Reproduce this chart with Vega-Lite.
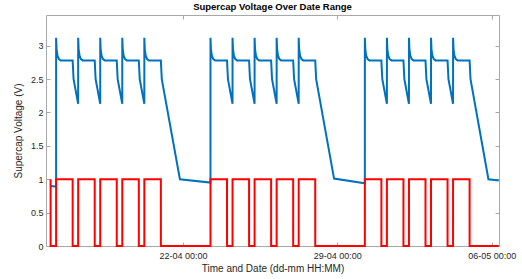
{
  "$schema": "https://vega.github.io/schema/vega-lite/v6.json",
  "autosize": {"type": "none"},
  "padding": {"left": 46, "top": 15, "right": 23, "bottom": 33},
  "width": 453,
  "height": 231,
  "title": {"text": "Supercap Voltage Over Date Range", "fontSize": 9.5, "fontWeight": "bold", "font": "Liberation Sans", "color": "#000000", "offset": 3},
  "config": {
    "view": {"stroke": "#a8a8a8", "strokeWidth": 1},
    "axis": {"grid": false, "domain": false, "tickColor": "#a8a8a8", "labelFont": "Liberation Sans", "titleFont": "Liberation Sans", "labelColor": "#262626", "titleColor": "#262626", "labelFontSize": 9, "titleFontSize": 10, "titleFontWeight": "normal"}
  },
  "datasets": {
    "v": [
      {"t": "2024-04-16T00:00", "v": 0.90},
      {"t": "2024-04-16T06:00", "v": 0.89},
      {"t": "2024-04-16T06:01", "v": 3.12}, {"t": "2024-04-16T06:30", "v": 2.95}, {"t": "2024-04-16T07:30", "v": 2.85}, {"t": "2024-04-16T09:00", "v": 2.80}, {"t": "2024-04-16T11:00", "v": 2.78},
      {"t": "2024-04-17T00:00", "v": 2.78}, {"t": "2024-04-17T01:00", "v": 2.50}, {"t": "2024-04-17T06:00", "v": 2.13},
      {"t": "2024-04-17T06:01", "v": 3.12}, {"t": "2024-04-17T06:30", "v": 2.95}, {"t": "2024-04-17T07:30", "v": 2.85}, {"t": "2024-04-17T09:00", "v": 2.80}, {"t": "2024-04-17T11:00", "v": 2.78},
      {"t": "2024-04-18T00:00", "v": 2.78}, {"t": "2024-04-18T01:00", "v": 2.50}, {"t": "2024-04-18T06:00", "v": 2.13},
      {"t": "2024-04-18T06:01", "v": 3.12}, {"t": "2024-04-18T06:30", "v": 2.95}, {"t": "2024-04-18T07:30", "v": 2.85}, {"t": "2024-04-18T09:00", "v": 2.80}, {"t": "2024-04-18T11:00", "v": 2.78},
      {"t": "2024-04-19T00:00", "v": 2.78}, {"t": "2024-04-19T01:00", "v": 2.50}, {"t": "2024-04-19T06:00", "v": 2.13},
      {"t": "2024-04-19T06:01", "v": 3.12}, {"t": "2024-04-19T06:30", "v": 2.95}, {"t": "2024-04-19T07:30", "v": 2.85}, {"t": "2024-04-19T09:00", "v": 2.80}, {"t": "2024-04-19T11:00", "v": 2.78},
      {"t": "2024-04-20T00:00", "v": 2.78}, {"t": "2024-04-20T01:00", "v": 2.50}, {"t": "2024-04-20T06:00", "v": 2.13},
      {"t": "2024-04-20T06:01", "v": 3.12}, {"t": "2024-04-20T06:30", "v": 2.95}, {"t": "2024-04-20T07:30", "v": 2.85}, {"t": "2024-04-20T09:00", "v": 2.80}, {"t": "2024-04-20T11:00", "v": 2.78},
      {"t": "2024-04-21T00:00", "v": 2.78}, {"t": "2024-04-21T01:00", "v": 2.50}, {"t": "2024-04-21T20:45", "v": 1.00}, {"t": "2024-04-23T06:00", "v": 0.95},
      {"t": "2024-04-23T06:01", "v": 3.12}, {"t": "2024-04-23T06:30", "v": 2.95}, {"t": "2024-04-23T07:30", "v": 2.85}, {"t": "2024-04-23T09:00", "v": 2.80}, {"t": "2024-04-23T11:00", "v": 2.78},
      {"t": "2024-04-24T00:00", "v": 2.78}, {"t": "2024-04-24T01:00", "v": 2.50}, {"t": "2024-04-24T06:00", "v": 2.13},
      {"t": "2024-04-24T06:01", "v": 3.12}, {"t": "2024-04-24T06:30", "v": 2.95}, {"t": "2024-04-24T07:30", "v": 2.85}, {"t": "2024-04-24T09:00", "v": 2.80}, {"t": "2024-04-24T11:00", "v": 2.78},
      {"t": "2024-04-25T00:00", "v": 2.78}, {"t": "2024-04-25T01:00", "v": 2.50}, {"t": "2024-04-25T06:00", "v": 2.13},
      {"t": "2024-04-25T06:01", "v": 3.12}, {"t": "2024-04-25T06:30", "v": 2.95}, {"t": "2024-04-25T07:30", "v": 2.85}, {"t": "2024-04-25T09:00", "v": 2.80}, {"t": "2024-04-25T11:00", "v": 2.78},
      {"t": "2024-04-26T00:00", "v": 2.78}, {"t": "2024-04-26T01:00", "v": 2.50}, {"t": "2024-04-26T06:00", "v": 2.13},
      {"t": "2024-04-26T06:01", "v": 3.12}, {"t": "2024-04-26T06:30", "v": 2.95}, {"t": "2024-04-26T07:30", "v": 2.85}, {"t": "2024-04-26T09:00", "v": 2.80}, {"t": "2024-04-26T11:00", "v": 2.78},
      {"t": "2024-04-27T00:00", "v": 2.78}, {"t": "2024-04-27T01:00", "v": 2.50}, {"t": "2024-04-27T06:00", "v": 2.13},
      {"t": "2024-04-27T06:01", "v": 3.12}, {"t": "2024-04-27T06:30", "v": 2.95}, {"t": "2024-04-27T07:30", "v": 2.85}, {"t": "2024-04-27T09:00", "v": 2.80}, {"t": "2024-04-27T11:00", "v": 2.78},
      {"t": "2024-04-28T00:00", "v": 2.78}, {"t": "2024-04-28T01:00", "v": 2.50}, {"t": "2024-04-28T20:30", "v": 1.01}, {"t": "2024-04-30T06:00", "v": 0.94},
      {"t": "2024-04-30T06:01", "v": 3.12}, {"t": "2024-04-30T06:30", "v": 2.95}, {"t": "2024-04-30T07:30", "v": 2.85}, {"t": "2024-04-30T09:00", "v": 2.80}, {"t": "2024-04-30T11:00", "v": 2.78},
      {"t": "2024-05-01T00:00", "v": 2.78}, {"t": "2024-05-01T01:00", "v": 2.50}, {"t": "2024-05-01T06:00", "v": 2.13},
      {"t": "2024-05-01T06:01", "v": 3.12}, {"t": "2024-05-01T06:30", "v": 2.95}, {"t": "2024-05-01T07:30", "v": 2.85}, {"t": "2024-05-01T09:00", "v": 2.80}, {"t": "2024-05-01T11:00", "v": 2.78},
      {"t": "2024-05-02T00:00", "v": 2.78}, {"t": "2024-05-02T01:00", "v": 2.50}, {"t": "2024-05-02T06:00", "v": 2.13},
      {"t": "2024-05-02T06:01", "v": 3.12}, {"t": "2024-05-02T06:30", "v": 2.95}, {"t": "2024-05-02T07:30", "v": 2.85}, {"t": "2024-05-02T09:00", "v": 2.80}, {"t": "2024-05-02T11:00", "v": 2.78},
      {"t": "2024-05-03T00:00", "v": 2.78}, {"t": "2024-05-03T01:00", "v": 2.50}, {"t": "2024-05-03T06:00", "v": 2.13},
      {"t": "2024-05-03T06:01", "v": 3.12}, {"t": "2024-05-03T06:30", "v": 2.95}, {"t": "2024-05-03T07:30", "v": 2.85}, {"t": "2024-05-03T09:00", "v": 2.80}, {"t": "2024-05-03T11:00", "v": 2.78},
      {"t": "2024-05-04T00:00", "v": 2.78}, {"t": "2024-05-04T01:00", "v": 2.50}, {"t": "2024-05-04T06:00", "v": 2.13},
      {"t": "2024-05-04T06:01", "v": 3.12}, {"t": "2024-05-04T06:30", "v": 2.95}, {"t": "2024-05-04T07:30", "v": 2.85}, {"t": "2024-05-04T09:00", "v": 2.80}, {"t": "2024-05-04T11:00", "v": 2.78},
      {"t": "2024-05-05T00:00", "v": 2.78}, {"t": "2024-05-05T01:00", "v": 2.50}, {"t": "2024-05-05T20:30", "v": 1.00}, {"t": "2024-05-06T07:45", "v": 0.98}
    ],
    "s": [
      {"t": "2024-04-16T00:00", "s": 1}, {"t": "2024-04-16T00:01", "s": 0},
      {"t": "2024-04-16T06:00", "s": 0}, {"t": "2024-04-16T06:01", "s": 1}, {"t": "2024-04-17T00:00", "s": 1}, {"t": "2024-04-17T00:01", "s": 0},
      {"t": "2024-04-17T06:00", "s": 0}, {"t": "2024-04-17T06:01", "s": 1}, {"t": "2024-04-18T00:00", "s": 1}, {"t": "2024-04-18T00:01", "s": 0},
      {"t": "2024-04-18T06:00", "s": 0}, {"t": "2024-04-18T06:01", "s": 1}, {"t": "2024-04-19T00:00", "s": 1}, {"t": "2024-04-19T00:01", "s": 0},
      {"t": "2024-04-19T06:00", "s": 0}, {"t": "2024-04-19T06:01", "s": 1}, {"t": "2024-04-20T00:00", "s": 1}, {"t": "2024-04-20T00:01", "s": 0},
      {"t": "2024-04-20T06:00", "s": 0}, {"t": "2024-04-20T06:01", "s": 1}, {"t": "2024-04-21T00:00", "s": 1}, {"t": "2024-04-21T00:01", "s": 0},
      {"t": "2024-04-23T06:00", "s": 0}, {"t": "2024-04-23T06:01", "s": 1}, {"t": "2024-04-24T00:00", "s": 1}, {"t": "2024-04-24T00:01", "s": 0},
      {"t": "2024-04-24T06:00", "s": 0}, {"t": "2024-04-24T06:01", "s": 1}, {"t": "2024-04-25T00:00", "s": 1}, {"t": "2024-04-25T00:01", "s": 0},
      {"t": "2024-04-25T06:00", "s": 0}, {"t": "2024-04-25T06:01", "s": 1}, {"t": "2024-04-26T00:00", "s": 1}, {"t": "2024-04-26T00:01", "s": 0},
      {"t": "2024-04-26T06:00", "s": 0}, {"t": "2024-04-26T06:01", "s": 1}, {"t": "2024-04-27T00:00", "s": 1}, {"t": "2024-04-27T00:01", "s": 0},
      {"t": "2024-04-27T06:00", "s": 0}, {"t": "2024-04-27T06:01", "s": 1}, {"t": "2024-04-28T00:00", "s": 1}, {"t": "2024-04-28T00:01", "s": 0},
      {"t": "2024-04-30T06:00", "s": 0}, {"t": "2024-04-30T06:01", "s": 1}, {"t": "2024-05-01T00:00", "s": 1}, {"t": "2024-05-01T00:01", "s": 0},
      {"t": "2024-05-01T06:00", "s": 0}, {"t": "2024-05-01T06:01", "s": 1}, {"t": "2024-05-02T00:00", "s": 1}, {"t": "2024-05-02T00:01", "s": 0},
      {"t": "2024-05-02T06:00", "s": 0}, {"t": "2024-05-02T06:01", "s": 1}, {"t": "2024-05-03T00:00", "s": 1}, {"t": "2024-05-03T00:01", "s": 0},
      {"t": "2024-05-03T06:00", "s": 0}, {"t": "2024-05-03T06:01", "s": 1}, {"t": "2024-05-04T00:00", "s": 1}, {"t": "2024-05-04T00:01", "s": 0},
      {"t": "2024-05-04T06:00", "s": 0}, {"t": "2024-05-04T06:01", "s": 1}, {"t": "2024-05-05T00:00", "s": 1}, {"t": "2024-05-05T00:01", "s": 0},
      {"t": "2024-05-06T07:45", "s": 0}
    ]
  },
  "layer": [
    {
      "data": {"name": "v"},
      "mark": {"type": "line", "color": "#0072BD", "strokeWidth": 2, "clip": false},
      "encoding": {
        "x": {"field": "t", "type": "temporal",
              "scale": {"domain": [{"year": 2024, "month": 4, "date": 15, "hours": 19}, {"year": 2024, "month": 5, "date": 6, "hours": 8}]},
              "axis": {"orient": "bottom", "values": [{"year": 2024, "month": 4, "date": 22}, {"year": 2024, "month": 4, "date": 29}, {"year": 2024, "month": 5, "date": 6}],
                       "format": "%d-%m %H:%M", "tickSize": -4, "labelPadding": 9, "title": "Time and Date (dd-mm HH:MM)", "titlePadding": 3}},
        "y": {"field": "v", "type": "quantitative",
              "scale": {"domain": [0, 3.46], "nice": false, "zero": false},
              "axis": {"orient": "left", "values": [0, 0.5, 1, 1.5, 2, 2.5, 3], "format": "~g", "tickSize": -4, "labelPadding": 7, "title": "Supercap Voltage (V)", "titlePadding": 7}}
      }
    },
    {
      "data": {"name": "s"},
      "mark": {"type": "line", "color": "#FF0000", "strokeWidth": 2, "clip": false},
      "encoding": {
        "x": {"field": "t", "type": "temporal",
              "axis": {"orient": "top", "values": [{"year": 2024, "month": 4, "date": 22}, {"year": 2024, "month": 4, "date": 29}, {"year": 2024, "month": 5, "date": 6}],
                       "labels": false, "tickSize": -4, "title": null}},
        "y": {"field": "s", "type": "quantitative",
              "axis": {"orient": "right", "values": [0, 0.5, 1, 1.5, 2, 2.5, 3], "labels": false, "tickSize": -4, "title": null}}
      }
    }
  ]
}
